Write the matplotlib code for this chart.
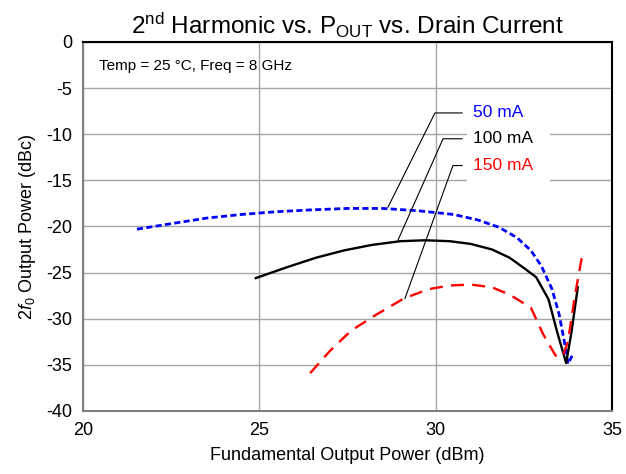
import matplotlib
matplotlib.use("Agg")
import matplotlib.pyplot as plt
from matplotlib.patches import Rectangle

plt.rcParams['font.family'] = ['Liberation Sans', 'DejaVu Sans']
plt.rcParams['mathtext.fontset'] = 'custom'
plt.rcParams['mathtext.rm'] = 'Liberation Sans'
plt.rcParams['mathtext.it'] = 'Liberation Sans:italic'
plt.rcParams['axes.unicode_minus'] = False

# 50 mA
x50 = [21.53, 22.5, 23.5, 24.5, 25.5, 26.5, 27.5, 28.5, 29.5, 30.5, 31.2, 31.8, 32.3, 32.7, 33.0, 33.3, 33.5, 33.65, 33.75, 33.9]
y50 = [-20.3, -19.7, -19.1, -18.7, -18.4, -18.2, -18.05, -18.05, -18.3, -18.7, -19.3, -20.1, -21.2, -22.6, -24.3, -26.8, -29.5, -32.5, -34.9, -33.8]

# 100 mA
x100 = [24.9, 25.8, 26.6, 27.4, 28.2, 29.0, 29.7, 30.4, 31.0, 31.6, 32.1, 32.5, 32.85, 33.2, 33.45, 33.7, 33.85, 34.03]
y100 = [-25.6, -24.4, -23.4, -22.6, -22.0, -21.6, -21.5, -21.6, -21.9, -22.5, -23.4, -24.5, -25.5, -27.9, -31.5, -34.8, -31.5, -26.6]

# 150 mA
x150 = [26.44, 27.0, 27.6, 28.3, 29.1, 29.8, 30.4, 31.0, 31.6, 32.1, 32.7, 33.05, 33.4, 33.6, 33.75, 33.95, 34.18]
y150 = [-35.9, -33.5, -31.3, -29.6, -27.8, -26.8, -26.4, -26.3, -26.6, -27.4, -28.8, -31.7, -34.0, -34.1, -32.5, -27.5, -22.6]

labels = ['50 mA', '100 mA', '150 mA']
colors = ['#0000ff', '#000000', '#ff0000']
# leader lines: (elbow x, label y, point on curve)
elbow_x = [29.98, 30.21, 30.49]
label_y = [-7.7, -10.5, -13.4]
target_x = [28.65, 28.93, 29.13]
target_y = [-17.9, -21.5, -27.8]

fig = plt.figure(figsize=(6.26, 4.74), dpi=100)
ax = fig.add_axes([0.1326, 0.133, 0.8450, 0.7786])

ax.plot(x50, y50, color=colors[0], lw=2, dashes=(2.2, 1.2))
ax.plot(x100, y100, color=colors[1], lw=1.7)
ax.plot(x150, y150, color=colors[2], lw=1.7, dashes=(5.5, 3.5))

# white box behind the labels
ax.add_patch(Rectangle((30.9, -15.4), 2.35, 9.2, facecolor='white', edgecolor='none', zorder=3))

for i in range(3):
    ax.plot([target_x[i], elbow_x[i], 30.75], [target_y[i], label_y[i], label_y[i]],
            color='black', lw=0.8, zorder=4)
    ax.text(31.05, label_y[i], labels[i], color=colors[i], fontsize=12.5,
            va='center', ha='left', zorder=5)

ax.text(20.45, -2.6, 'Temp = 25 °C, Freq = 8 GHz', fontsize=11, va='center', ha='left')

ax.set_xlim(20, 35)
ax.set_ylim(-40, 0)
ax.set_xticks([20, 25, 30, 35])
ax.set_yticks(range(-40, 1, 5))
ax.grid(True, color='#a6a6a6', lw=1)
ax.set_axisbelow(True)
ax.tick_params(length=0, labelsize=13, pad=8)

for s in ['left', 'bottom']:
    ax.spines[s].set_color('#808080')
    ax.spines[s].set_linewidth(1.5)
for s in ['top', 'right']:
    ax.spines[s].set_color('black')
    ax.spines[s].set_linewidth(1.5)

ax.set_xlabel('Fundamental Output Power (dBm)', fontsize=13, labelpad=6)
ax.set_ylabel(r'2$\mathit{f}_0$ Output Power (dBc)', fontsize=13, labelpad=6)
ax.set_title(r'2$^{\mathrm{nd}}$ Harmonic vs. P$_{\mathrm{OUT}}$ vs. Drain Current', fontsize=17.5, pad=6)

fig.savefig('out.png', dpi=100)
